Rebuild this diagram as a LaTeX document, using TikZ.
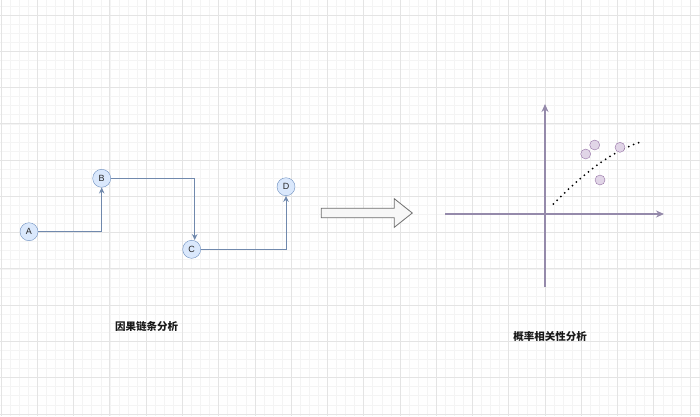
\documentclass[tikz,border=0pt]{standalone}
\usepackage{fontspec}
\setmainfont{Liberation Sans}
\newfontfamily\cjk{Noto Sans CJK SC}
\usetikzlibrary{shapes.geometric, shapes.arrows, arrows, arrows.meta, positioning, calc}
\definecolor{azulclaro}{HTML}{DAE8FC}
\definecolor{azulborde}{HTML}{6C8EBF}
\definecolor{azulflecha}{HTML}{7089AD}
\definecolor{lila}{HTML}{E1D5E7}
\definecolor{lilaborde}{HTML}{9673A6}
\definecolor{ejecolor}{HTML}{958AAB}
\definecolor{grismayor}{HTML}{E4E4E4}
\definecolor{grismenor}{HTML}{F4F4F4}
\definecolor{grisflecha}{HTML}{6E6E6E}
\tikzset{
  circulo/.style={circle, draw=azulborde, fill=azulclaro, minimum size=18pt, inner sep=0pt,
                  font=\fontsize{9}{10}\selectfont, text=black!85},
  punto/.style={circle, draw=lilaborde, fill=lila, minimum size=10pt, inner sep=0pt},
  arrow/.style={line width=0.9pt,-{Stealth[length=6pt,width=5.5pt]},color=azulflecha},
  eje/.style={line width=1.1pt,-{Stealth[length=8pt,width=7pt]},color=ejecolor},
  tendencia/.style={line width=2pt, line cap=round, dash pattern=on 0pt off 5.3pt, color=black},
  flecha/.style={single arrow, draw=grisflecha, fill=white!97!black, line width=0.8pt,
                 minimum height=91pt, minimum width=28pt, inner sep=4.35pt,
                 single arrow head extend=9.65pt, single arrow tip angle=77},
  titulo/.style={font=\cjk\bfseries\fontsize{10.5}{12}\selectfont, text=black!90},
  gridmenor/.style={line width=0.5pt, color=grismenor},
  gridmayor/.style={line width=0.7pt, color=grismayor}
}
\begin{document}
\begin{tikzpicture}[x=1pt, y=-1pt]
  \useasboundingbox (0,0) rectangle (700,416);
  \clip (0,0) rectangle (700,416);
  \fill [white] (0,0) rectangle (700,416);
  % cuadricula
  \foreach \i in {0,...,77} \draw [gridmenor] ({1.04+9.065*\i},0) -- ({1.04+9.065*\i},416);
  \foreach \j in {0,...,46} \draw [gridmenor] (0,{5.9+9.065*\j}) -- (700,{5.9+9.065*\j});
  \foreach \i in {0,...,19} \draw [gridmayor] ({1.04+36.26*\i},0) -- ({1.04+36.26*\i},416);
  \foreach \j in {0,...,11} \draw [gridmayor] (0,{15+36.26*\j}) -- (700,{15+36.26*\j});

  % cadena causal
  \node (a) [circulo] at (29,231.7) {A};
  \node (b) [circulo] at (101.7,178.3) {B};
  \node (c) [circulo] at (191.7,249.3) {C};
  \node (d) [circulo] at (286,186.7) {D};
  \draw [arrow] (a.east) -| (b.south);
  \draw [arrow] (b.east) -| ([xshift=3pt]c.north);
  \draw [arrow] (c.east) -| (d.south);
  \node (titcausal) [titulo] at (146.7,326.7) {因果链条分析};

  \node (flecha) [flecha] at (363.8,213) {};

  % correlacion
  \coordinate (ejeizq) at (445,214);
  \coordinate (ejeder) at (664,214);
  \coordinate (ejeabajo) at (545,287);
  \coordinate (ejearriba) at (545,104);
  \draw [eje] (ejeizq) -- (ejeder);
  \draw [eje] (ejeabajo) -- (ejearriba);
  \coordinate (tendini) at (553.3,204);
  \coordinate (tendfin) at (642,141.5);
  \draw [tendencia] (tendini) .. controls (585,172) and (612,151) .. (tendfin);
  \node (p1) [punto] at (585.7,154) {};
  \node (p2) [punto] at (594.7,145) {};
  \node (p3) [punto] at (620,147.3) {};
  \node (p4) [punto] at (600,180) {};
  \node (titcorrel) [titulo] at (550,336) {概率相关性分析};
\end{tikzpicture}
\end{document}
